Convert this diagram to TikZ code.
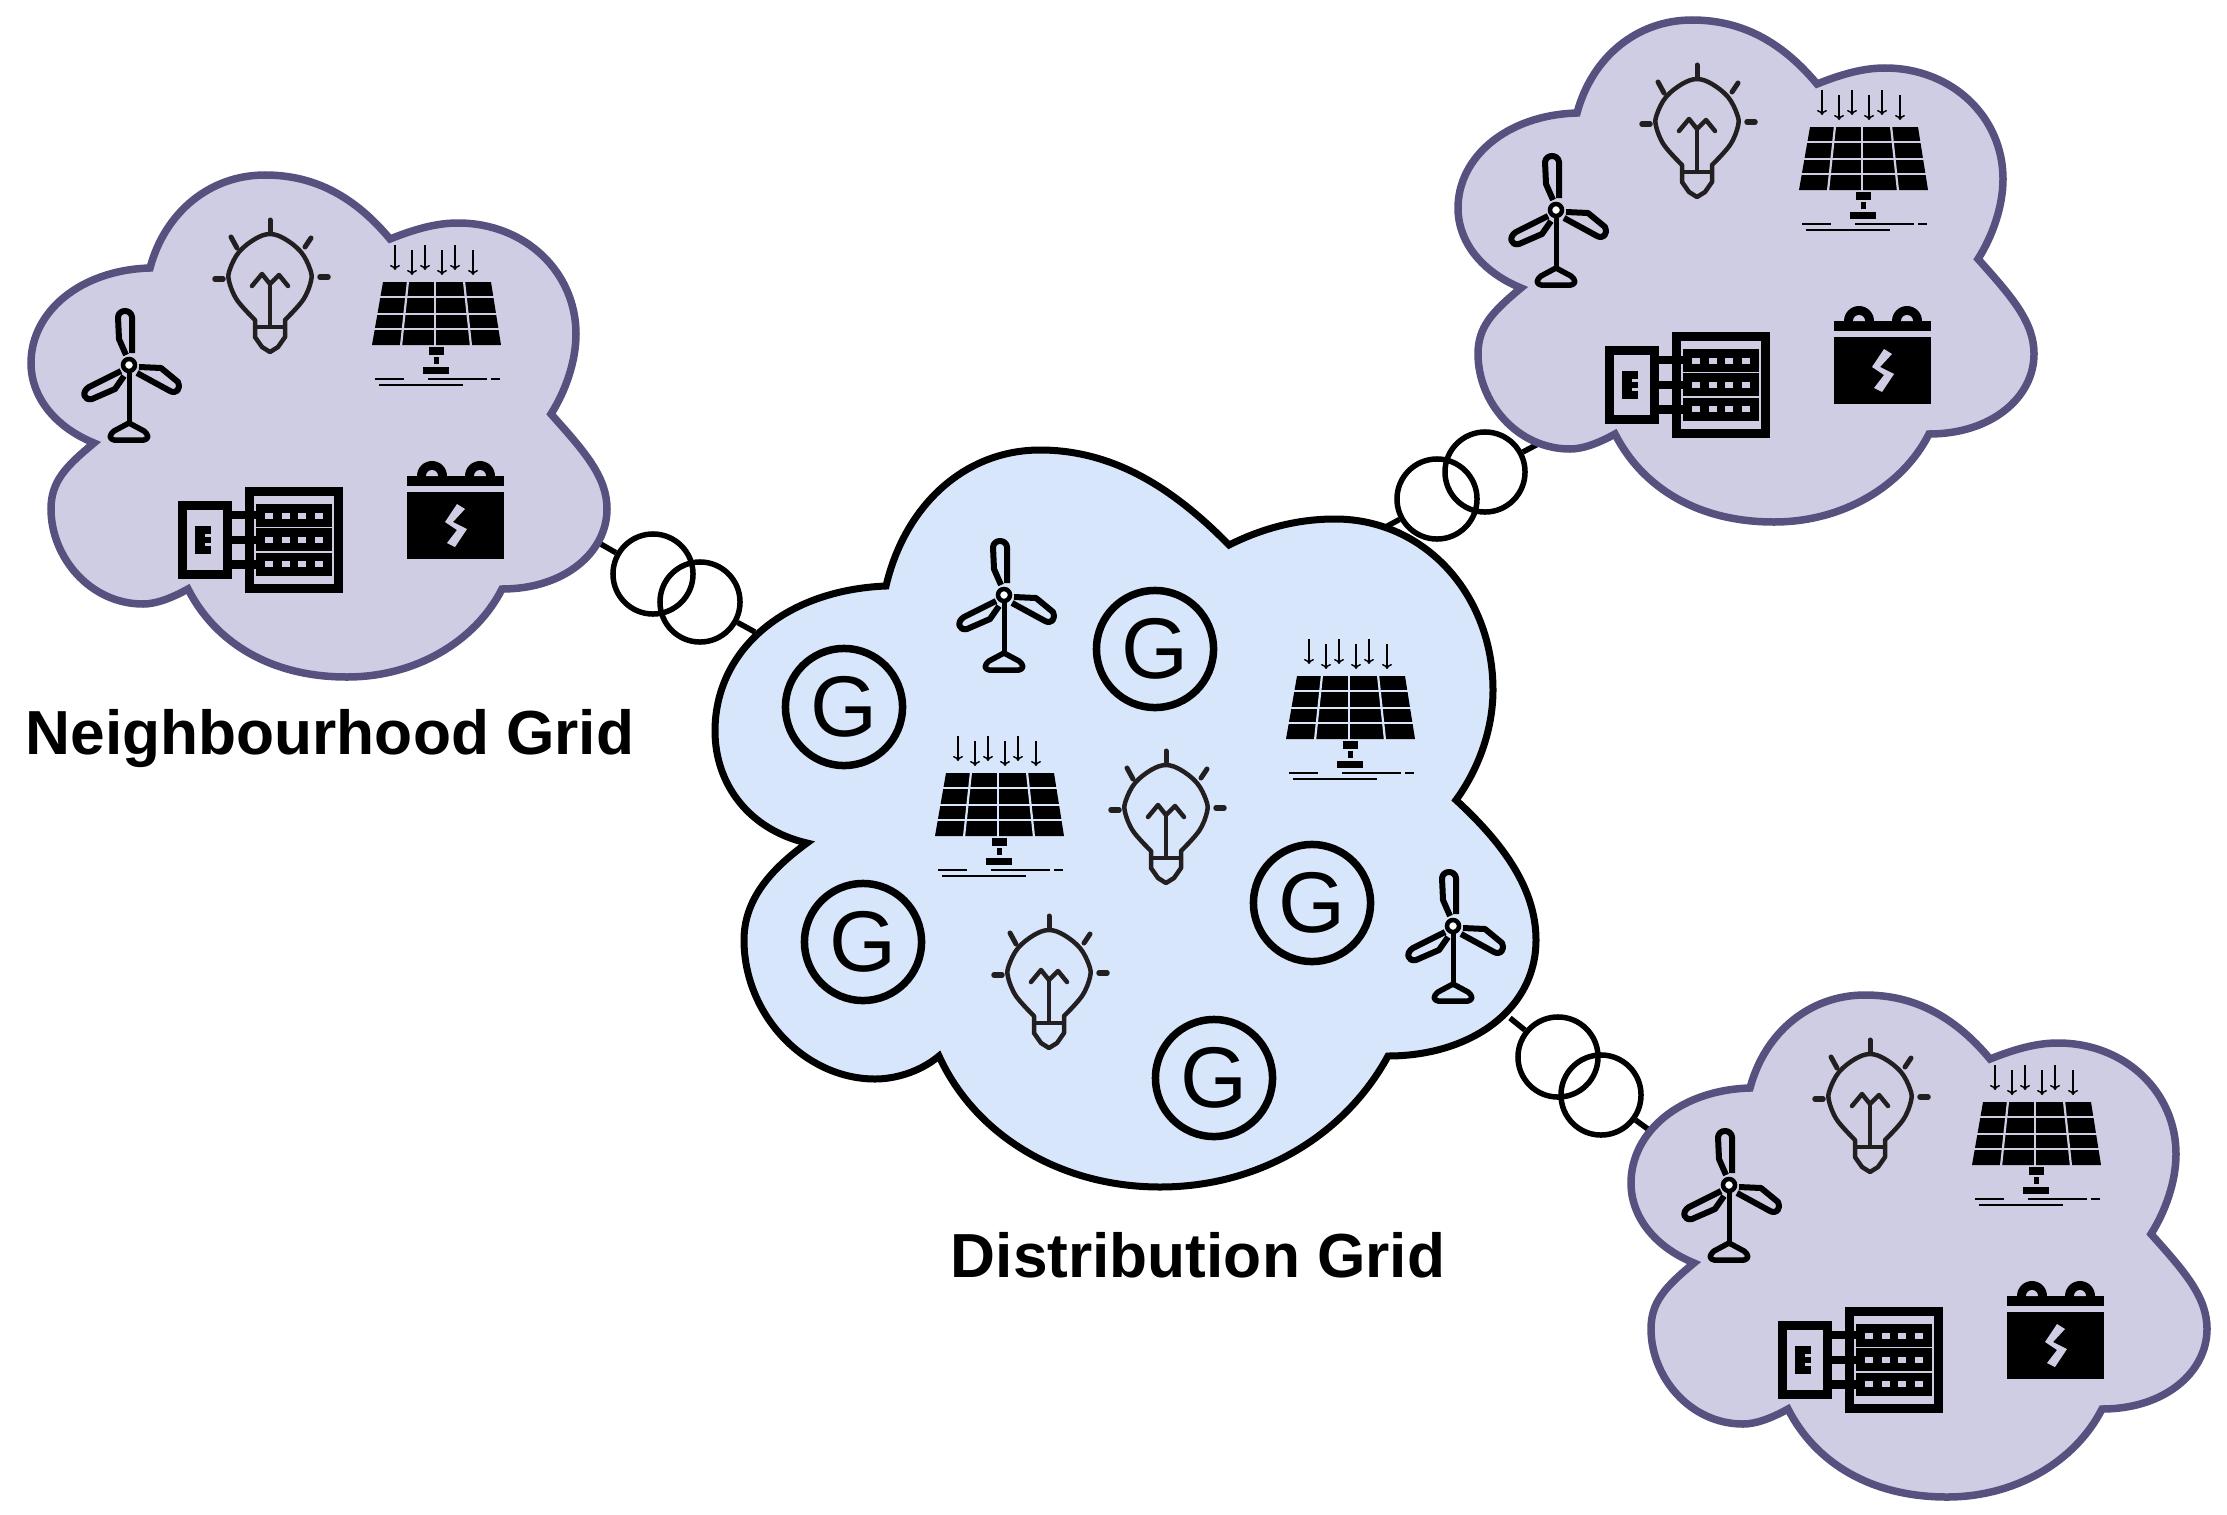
\documentclass[tikz,border=0pt]{standalone}
\usepackage{fontspec}
\setmainfont{Liberation Sans}
\usetikzlibrary{arrows.meta}
\definecolor{nbfill}{HTML}{CFCDE3}
\definecolor{nbline}{HTML}{56517F}
\definecolor{distfill}{HTML}{D7E6FA}
\definecolor{bulbline}{HTML}{231F20}
\tikzset{
    gridlabel/.style={font=\fontsize{17.7}{20}\selectfont\bfseries},
    gen/.style={circle,draw,line width=0.075cm,minimum size=1.17cm,inner sep=0pt,font=\fontsize{24.5}{26}\selectfont},
    trafo/.style={circle,draw,line width=0.055cm,minimum size=0.8cm,inner sep=0pt},
    link/.style={line width=0.055cm},
    turbine/.pic={
        \draw [line width=0.06cm,line join=round] (-3,-10) -- (-10,-26) -- (-11,-48) .. controls (-10,-56) and (2,-56) .. (3,-48) -- (3,-12);
        \draw [line width=0.06cm,line join=round] (10,2) -- (32,3) -- (49,17) .. controls (52,25) and (47,29) .. (41,26) -- (8,8);
        \draw [line width=0.06cm,line join=round] (-8,6) -- (-40,22) .. controls (-48,27) and (-45,36) .. (-37,34) -- (-14,24) -- (-5,11);
        \draw [line width=0.045cm,fill=white] (0,0) circle (6);
        \draw [line width=0.05cm] (0,8) -- (0,58);
        \draw [line width=0.055cm,line join=round] (0,58) -- (-15,66) .. controls (-20,70) and (-20,74) .. (-15,75) -- (15,75) .. controls (20,74) and (20,70) .. (15,66) -- cycle;
    },
    bulb/.pic={
        \draw [bulbline,line width=0.045cm,line join=round] (-15,50) -- (-15,43) -- plot [smooth,tension=0.6] coordinates {(-15,43) (-33,23) (-41,4) (-40,-8) (-31,-25) (-15,-38) (0,-43) (15,-38) (31,-25) (40,-8) (41,4) (33,23) (15,43)} -- (15,50) -- (15,60) -- (8,70) -- (0,75) -- (-8,70) -- (-15,60) -- cycle;
        \draw [bulbline,line width=0.04cm] (-15,50) -- (15,50);
        \draw [bulbline,line width=0.04cm] (0,7) -- (0,50);
        \draw [bulbline,line width=0.045cm,line join=round,line cap=round] (-18,9) -- (-8,-3) -- (0,7) -- (9,-2) -- (18,9);
        \draw [bulbline,line width=0.05cm,line cap=round] (0,-57) -- (0,-45);
        \draw [bulbline,line width=0.055cm,line cap=round] (-55,2) -- (-47,2);
        \draw [bulbline,line width=0.055cm,line cap=round] (50,0) -- (58,0);
        \draw [bulbline,line width=0.05cm,line cap=round] (-39,-40) -- (-33,-29);
        \draw [bulbline,line width=0.05cm,line cap=round] (41,-39) -- (35,-30);
    },
    solarpanel/.pic={
        \fill (-54,-32) -- (54,-32) -- (64,31) -- (-65,31) -- cycle;
        \draw [#1,line width=0.022cm] (-29,-33) -- (-36,32);
        \draw [#1,line width=0.022cm] (-2,-33) -- (-2,32);
        \draw [#1,line width=0.022cm] (27,-33) -- (34,32);
        \draw [#1,line width=0.022cm] (-68,-17) -- (68,-17);
        \draw [#1,line width=0.022cm] (-68,0) -- (68,0);
        \draw [#1,line width=0.022cm] (-68,15) -- (68,15);
        \draw [-{To[length=0.05cm,width=0.1cm]},line width=0.015cm] (-42,-69) -- (-42,-44);
        \draw [-{To[length=0.05cm,width=0.1cm]},line width=0.015cm] (-25,-64) -- (-25,-39);
        \draw [-{To[length=0.05cm,width=0.1cm]},line width=0.015cm] (-12,-69) -- (-12,-44);
        \draw [-{To[length=0.05cm,width=0.1cm]},line width=0.015cm] (5,-64) -- (5,-39);
        \draw [-{To[length=0.05cm,width=0.1cm]},line width=0.015cm] (18,-69) -- (18,-44);
        \draw [-{To[length=0.05cm,width=0.1cm]},line width=0.015cm] (36,-64) -- (36,-39);
        \fill (-8,33) rectangle (7,41);
        \fill (-3,43) rectangle (2,50);
        \fill (-14,53) rectangle (12,60);
        \draw [line width=0.015cm] (-62,65) -- (-33,65);
        \draw [line width=0.015cm] (-9,65) -- (50,65);
        \draw [line width=0.015cm] (54,65) -- (63,65);
        \draw [line width=0.015cm] (-58,71) -- (26,71);
    },
    neighbourhood/.pic={
        \draw [fill=nbfill,draw=nbline,line width=0.075cm]
            (94,441) .. controls (55,425) and (31,395) .. (31,361)
            .. controls (31,310) and (80,268) .. (150,266)
            .. controls (165,210) and (210,173) .. (265,173)
            .. controls (315,173) and (355,195) .. (390,237)
            .. controls (420,225) and (440,221) .. (458,221)
            .. controls (525,221) and (576,270) .. (576,332)
            .. controls (576,360) and (565,390) .. (551,412)
            .. controls (585,450) and (607,475) .. (607,507)
            .. controls (607,550) and (565,587) .. (502,587)
            .. controls (475,640) and (415,675) .. (347,675)
            .. controls (270,675) and (215,640) .. (188,587)
            .. controls (170,597) and (155,602) .. (143,602)
            .. controls (90,602) and (51,555) .. (51,507)
            .. controls (51,480) and (65,465) .. (94,441) -- cycle;
        \pic at (129,363) {turbine};
        \pic at (270,275) {bulb};
        \pic at (437,312) {solarpanel=nbfill};
        % battery
        \fill (407,490) rectangle (504,557);
        \fill (407,474) rectangle (504,484);
        \fill (417,474) arc (180:360:15) -- cycle;
        \fill (465,474) arc (180:360:15) -- cycle;
        \fill [nbfill] (426,474) arc (180:360:6) -- cycle;
        \fill [nbfill] (474,474) arc (180:360:6) -- cycle;
        \fill [nbfill] (457,502) -- (465,507) -- (453,520) -- (467,527) -- (455,545) -- (447,541) -- (457,528) -- (445,520) -- cycle;
        % breaker box
        \draw [line width=0.09cm] (182.5,503.5) rectangle (227.5,572.5);
        \draw [line width=0.09cm] (249.5,489.5) rectangle (338.5,586.5);
        \fill (232,509) rectangle (256,517);
        \fill (232,534) rectangle (256,542);
        \fill (232,558) rectangle (256,567);
        \fill (195,524) rectangle (211,552);
        \fill [nbfill] (205,532) rectangle (211,535);
        \fill [nbfill] (205,541) rectangle (211,544);
        \fill (256,502) rectangle (332,525);
        \fill (256,526) rectangle (332,549);
        \fill (256,551) rectangle (332,574);
        \foreach \rowy in {511,535,559} {
            \foreach \colx in {265,282,298,315} {
                \fill [nbfill] (\colx,\rowy) rectangle ++(8,6);
            }
        }
    }
}
\begin{document}
\begin{tikzpicture}[x=0.01cm,y=-0.01cm]
    \useasboundingbox (0,0) rectangle (2227,1515);

    \node [trafo] (tfA1) at (653,574) {};
    \node [trafo] (tfA2) at (700,602) {};
    \node [trafo] (tfB1) at (1437,499) {};
    \node [trafo] (tfB2) at (1485,472) {};
    \node [trafo] (tfC1) at (1558,1057) {};
    \node [trafo] (tfC2) at (1601,1095) {};

    \coordinate (nbA) at (599,543);
    \coordinate (distA) at (755,632);
    \coordinate (nbB) at (1538,444);
    \coordinate (distB) at (1382,529);
    \coordinate (nbC) at (1652,1132);
    \coordinate (distC) at (1510,1018);

    \draw [link] (nbA) -- (tfA1);
    \draw [link] (distA) -- (tfA2);
    \draw [link] (nbB) -- (tfB2);
    \draw [link] (distB) -- (tfB1);
    \draw [link] (nbC) -- (tfC2);
    \draw [link] (distC) -- (tfC1);

    \pic at (0,2) {neighbourhood};
    \pic at (1427,-153) {neighbourhood};
    \pic at (1600,822) {neighbourhood};

    \draw [fill=distfill,line width=0.07cm]
        (886,586) .. controls (905,505) and (965,450) .. (1040,450)
        .. controls (1115,450) and (1175,490) .. (1229,545)
        .. controls (1265,527) and (1300,519) .. (1335,519)
        .. controls (1425,519) and (1493,595) .. (1493,690)
        .. controls (1493,730) and (1478,770) .. (1456,800)
        .. controls (1505,845) and (1536,890) .. (1536,940)
        .. controls (1536,1010) and (1470,1056) .. (1388,1056)
        .. controls (1345,1135) and (1260,1187) .. (1160,1187)
        .. controls (1060,1187) and (975,1135) .. (939,1056)
        .. controls (920,1072) and (895,1079) .. (875,1079)
        .. controls (805,1079) and (744,1015) .. (744,940)
        .. controls (744,900) and (770,870) .. (807,843)
        .. controls (750,830) and (715,785) .. (715,731)
        .. controls (715,650) and (785,590) .. (886,586) -- cycle;

    \node [gen] (genA) at (844,707) {G};
    \node [gen] (genB) at (1155,649) {G};
    \node [gen] (genC) at (863,942) {G};
    \node [gen] (genD) at (1312,903) {G};
    \node [gen] (genE) at (1214,1078) {G};

    \pic at (1004,595) {turbine};
    \pic at (1453,926) {turbine};
    \pic at (1351,708) {solarpanel=distfill};
    \pic at (1000,805) {solarpanel=distfill};
    \pic at (1166,808) {bulb};
    \pic at (1049,973) {bulb};

    \node [gridlabel] (nbLabel) at (330,739) {Neighbourhood Grid};
    \node [gridlabel] (distLabel) at (1198,1255) {Distribution Grid};
\end{tikzpicture}
\end{document}
